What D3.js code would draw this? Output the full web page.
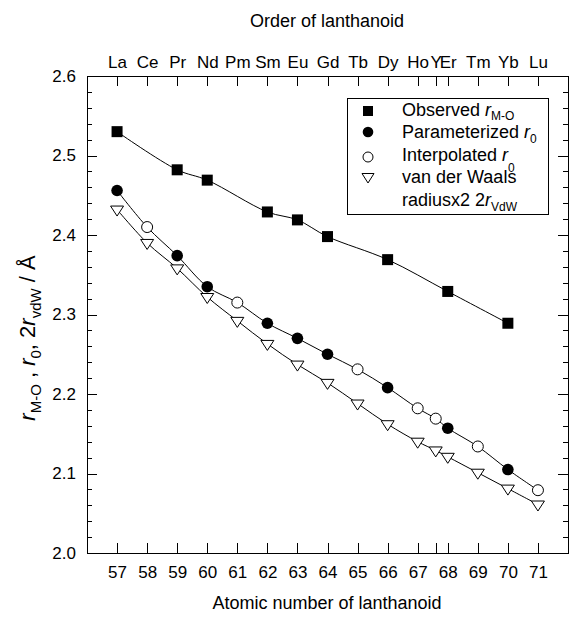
<!DOCTYPE html>
<html>
<head>
<meta charset="utf-8">
<script src="https://cdn.jsdelivr.net/npm/d3@7"></script>
<style>
  body { margin: 0; background: #fff; }
  svg { font-family: "Liberation Sans", Arial, sans-serif; }
  .axis path, .axis line { stroke: #000; shape-rendering: crispEdges; }
  .axis text { font-size: 17px; fill: #000; }
</style>
</head>
<body>
<div class="chart"></div>
<script>
// element names along the top, atomic numbers along the bottom
var elements = ["La", "Ce", "Pr", "Nd", "Pm", "Sm", "Eu", "Gd", "Tb", "Dy", "Ho", "Y", "Er", "Tm", "Yb", "Lu"];
var positions = [57, 58, 59, 60, 61, 62, 63, 64, 65, 66, 67, 67.6, 68, 69, 70, 71];
var bottomTicks = [57, 58, 59, 60, 61, 62, 63, 64, 65, 66, 67, 68, 69, 70, 71];

// Observed r M-O
var obsX = [57, 59, 60, 62, 63, 64, 66, 68, 70];
var obsY = [2.530, 2.482, 2.469, 2.429, 2.419, 2.398, 2.369, 2.329, 2.289];

// Parameterized r0
var parX = [57, 59, 60, 62, 63, 64, 66, 68, 70];
var parY = [2.456, 2.374, 2.335, 2.289, 2.270, 2.250, 2.208, 2.157, 2.105];

// Interpolated r0
var intX = [58, 61, 65, 67, 67.6, 69, 71];
var intY = [2.410, 2.315, 2.231, 2.182, 2.169, 2.134, 2.079];

// van der Waals radius x2
var vdwX = positions;
var vdwY = [2.432, 2.390, 2.358, 2.322, 2.292, 2.263, 2.237, 2.214, 2.188, 2.162, 2.140, 2.129, 2.121, 2.101, 2.081, 2.061];

var svgWidth = 569;
var svgHeight = 618;

var margin = { top: 76, right: 1, bottom: 65, left: 87 };
var width = svgWidth - margin.left - margin.right;
var height = svgHeight - margin.top - margin.bottom;

var svg = d3.select(".chart")
  .append("svg")
  .attr("width", svgWidth)
  .attr("height", svgHeight);

var chartGroup = svg.append("g")
  .attr("transform", `translate(${margin.left}, ${margin.top})`);

var xScale = d3.scaleLinear().domain([56, 72]).range([0, width]);
var yScale = d3.scaleLinear().domain([2.0, 2.6]).range([height, 0]);

// axes
var bottomAxis = d3.axisBottom(xScale)
  .tickValues(positions)
  .tickSizeInner(-10).tickSizeOuter(0).tickPadding(13)
  .tickFormat(d => bottomTicks.indexOf(d) >= 0 ? d : "");
chartGroup.append("g").attr("class", "axis")
  .attr("transform", `translate(0, ${height})`)
  .call(bottomAxis);

var topAxis = d3.axisTop(xScale)
  .tickValues(positions)
  .tickSizeInner(-10).tickSizeOuter(0).tickPadding(8)
  .tickFormat((d, i) => elements[i]);
chartGroup.append("g").attr("class", "axis")
  .call(topAxis);

var majorY = d3.range(0, 7).map(i => 2.0 + i * 0.1);
var minorY = d3.range(0, 31).map(i => 2.0 + i * 0.02);

var leftAxis = d3.axisLeft(yScale)
  .tickValues(majorY)
  .tickSizeInner(-10).tickSizeOuter(0).tickPadding(11)
  .tickFormat(d3.format(".1f"));
chartGroup.append("g").attr("class", "axis").call(leftAxis);
chartGroup.append("g").attr("class", "axis")
  .call(d3.axisLeft(yScale).tickValues(minorY).tickSizeInner(-5).tickSizeOuter(0).tickFormat(""));

chartGroup.append("g").attr("class", "axis")
  .attr("transform", `translate(${width}, 0)`)
  .call(d3.axisRight(yScale).tickValues(majorY).tickSizeInner(-10).tickSizeOuter(0).tickFormat(""));
chartGroup.append("g").attr("class", "axis")
  .attr("transform", `translate(${width}, 0)`)
  .call(d3.axisRight(yScale).tickValues(minorY).tickSizeInner(-5).tickSizeOuter(0).tickFormat(""));

// lines
var line = d3.line()
  .x(d => xScale(d[0]))
  .y(d => yScale(d[1]))
  .curve(d3.curveCatmullRom);

var obsData = obsX.map((x, i) => [x, obsY[i]]);
var parData = parX.map((x, i) => [x, parY[i]]);
var intData = intX.map((x, i) => [x, intY[i]]);
var vdwData = vdwX.map((x, i) => [x, vdwY[i]]);
var r0Data = parData.concat(intData).sort((a, b) => a[0] - b[0]);

[obsData, r0Data, vdwData].forEach(function(dataset) {
  chartGroup.append("path")
    .datum(dataset)
    .attr("fill", "none")
    .attr("stroke", "#000")
    .attr("stroke-width", 1)
    .attr("d", line);
});

// markers
var triPath = "M-6.5,-3.5L6.5,-3.5L0,6.5Z";

chartGroup.selectAll(".obs")
  .data(obsData).enter()
  .append("rect")
  .attr("x", d => xScale(d[0]) - 5.5)
  .attr("y", d => yScale(d[1]) - 5.5)
  .attr("width", 11).attr("height", 11)
  .attr("fill", "#000");

chartGroup.selectAll(".vdw")
  .data(vdwData).enter()
  .append("path")
  .attr("d", triPath)
  .attr("transform", d => `translate(${xScale(d[0])}, ${yScale(d[1])})`)
  .attr("fill", "#fff").attr("stroke", "#000").attr("stroke-width", 1);

chartGroup.selectAll(".par")
  .data(parData).enter()
  .append("circle")
  .attr("cx", d => xScale(d[0]))
  .attr("cy", d => yScale(d[1]))
  .attr("r", 5.8)
  .attr("fill", "#000");

chartGroup.selectAll(".int")
  .data(intData).enter()
  .append("circle")
  .attr("cx", d => xScale(d[0]))
  .attr("cy", d => yScale(d[1]))
  .attr("r", 5.5)
  .attr("fill", "#fff").attr("stroke", "#000").attr("stroke-width", 1);

// legend
svg.append("rect")
  .attr("x", 347.5).attr("y", 98.5)
  .attr("width", 201).attr("height", 116)
  .attr("fill", "#fff").attr("stroke", "#000").attr("stroke-width", 1);

var lx = 368, tx = 402;
svg.append("rect").attr("x", lx - 5).attr("y", 106).attr("width", 10).attr("height", 10).attr("fill", "#000");
svg.append("circle").attr("cx", lx).attr("cy", 132).attr("r", 5.3).attr("fill", "#000");
svg.append("circle").attr("cx", lx).attr("cy", 157).attr("r", 5)
  .attr("fill", "#fff").attr("stroke", "#000");
svg.append("path").attr("d", "M-6,-3.5L6,-3.5L0,6Z")
  .attr("transform", `translate(${lx}, 177)`)
  .attr("fill", "#fff").attr("stroke", "#000");

function legendText(y, parts) {
  var t = svg.append("text").attr("x", tx).attr("y", y).attr("font-size", 18).attr("fill", "#000");
  parts.forEach(function(p) {
    var s = t.append("tspan").text(p.t);
    if (p.i) s.attr("font-style", "italic");
    if (p.sub) s.attr("font-size", 12).attr("dy", p.sub);
  });
  return t;
}
legendText(116, [{ t: "Observed " }, { t: "r", i: true }, { t: "M-O", sub: 4 }]);
legendText(138, [{ t: "Parameterized " }, { t: "r", i: true }, { t: "0", sub: 5 }]);
legendText(161, [{ t: "Interpolated " }, { t: "r", i: true }, { t: "0", sub: 11 }]);
legendText(183, [{ t: "van der Waals" }]);
legendText(206, [{ t: "radiusx2 2" }, { t: "r", i: true }, { t: "VdW", sub: 5 }]);

// axis titles
svg.append("text")
  .attr("x", 327).attr("y", 27)
  .attr("text-anchor", "middle").attr("font-size", 18)
  .text("Order of lanthanoid");

svg.append("text")
  .attr("x", 327).attr("y", 609)
  .attr("text-anchor", "middle").attr("font-size", 18)
  .text("Atomic number of lanthanoid");

var yTitle = svg.append("text")
  .attr("transform", "translate(35, 338) rotate(-90)")
  .attr("text-anchor", "middle").attr("font-size", 22);
yTitle.append("tspan").attr("font-style", "italic").text("r");
yTitle.append("tspan").attr("font-size", 15).attr("dy", 6).text("M-O");
yTitle.append("tspan").attr("dy", -6).text(" , ");
yTitle.append("tspan").attr("font-style", "italic").text("r");
yTitle.append("tspan").attr("font-size", 15).attr("dy", 6).text("0");
yTitle.append("tspan").attr("dy", -6).text(", 2");
yTitle.append("tspan").attr("font-style", "italic").text("r");
yTitle.append("tspan").attr("font-size", 15).attr("dy", 6).text("vdW");
yTitle.append("tspan").attr("dy", -6).text(" / Å");
</script>
</body>
</html>
